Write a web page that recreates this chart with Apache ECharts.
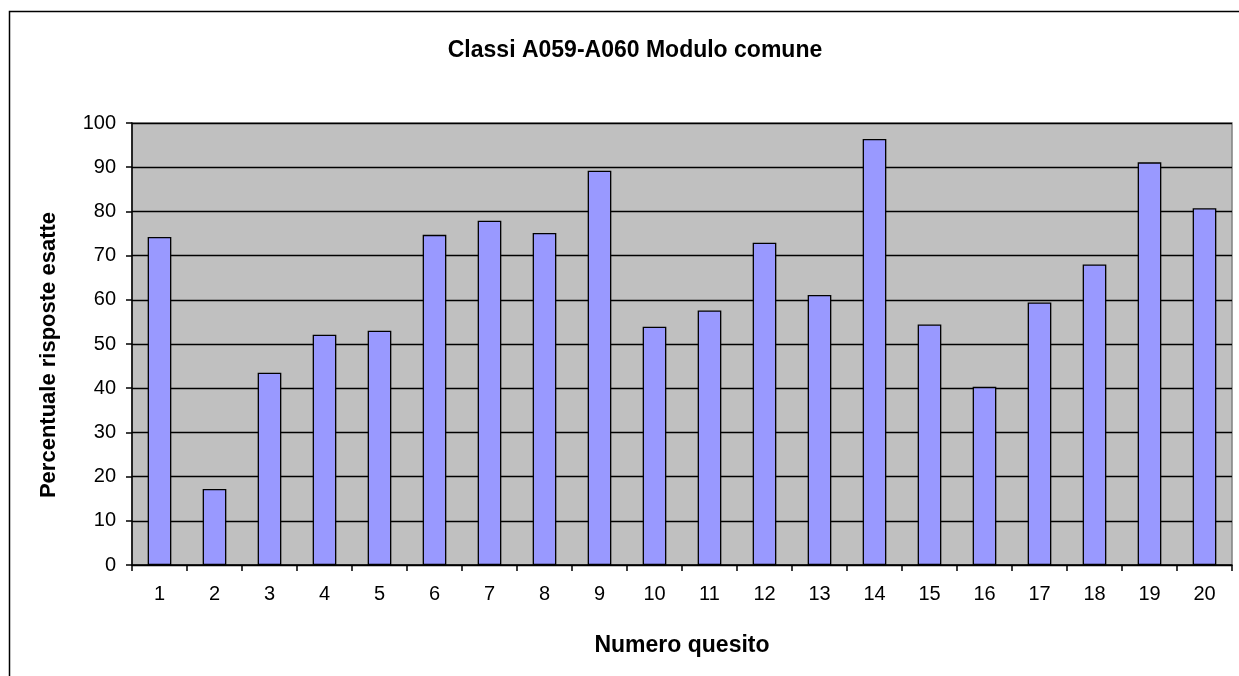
<!DOCTYPE html>
<html>
<head>
<meta charset="utf-8">
<script src="https://cdn.jsdelivr.net/npm/echarts@6/dist/echarts.min.js"></script>
<style>
html,body{margin:0;padding:0;background:#fff;}
#c{width:1239px;height:676px;}
</style>
</head>
<body>
<div id="c"></div>
<script>
const categories = ['1','2','3','4','5','6','7','8','9','10','11','12','13','14','15','16','17','18','19','20'];
const values = [74.2, 17.2, 43.5, 52.1, 53.0, 74.7, 77.9, 75.1, 89.2, 53.9, 57.6, 72.9, 61.1, 96.4, 54.4, 40.3, 59.4, 68.0, 91.1, 80.7];
const yTicks = [0, 100, 10];
const titleText = 'Classi A059-A060 Modulo comune';
const xName = 'Numero quesito';
const yName = 'Percentuale risposte esatte';

const chart = echarts.init(document.getElementById('c'));
const FONT = '"Liberation Sans", Arial, sans-serif';
chart.setOption({
  animation: false,
  backgroundColor: '#fff',
  title: {
    text: titleText,
    left: 630, top: 34, textAlign: 'center',
    textStyle: {fontFamily: FONT, fontSize: 23, fontWeight: 'bold', color: '#000'}
  },
  graphic: [
    {type: 'rect', shape: {x: 9.5, y: 11.5, width: 1300, height: 700}, style: {fill: 'none', stroke: '#000', lineWidth: 1.5}, silent: true, z: 100}
  ],
  grid: {left: 132, top: 123, right: 7, bottom: 111, show: true, backgroundColor: '#c0c0c0', borderColor: '#808080', borderWidth: 1.5},
  xAxis: {
    type: 'category', data: categories,
    name: xName, nameLocation: 'middle', nameGap: 69,
    nameTextStyle: {fontFamily: FONT, fontSize: 23, fontWeight: 'bold', color: '#000'},
    axisLine: {show: true, lineStyle: {color: '#000', width: 1.5}},
    axisTick: {show: true, alignWithLabel: false, length: 6, lineStyle: {color: '#000', width: 1.5}},
    axisLabel: {fontFamily: FONT, fontSize: 20, color: '#000', margin: 19},
    splitLine: {show: false}
  },
  yAxis: {
    type: 'value', min: yTicks[0], max: yTicks[1], interval: yTicks[2],
    name: yName, nameLocation: 'middle', nameGap: 72,
    nameTextStyle: {fontFamily: FONT, fontSize: 22, fontWeight: 'bold', color: '#000', padding: [0, 22, 0, 0]},
    axisLine: {show: true, lineStyle: {color: '#000', width: 1.5}},
    axisTick: {show: true, length: 6, lineStyle: {color: '#000', width: 1.5}},
    axisLabel: {fontFamily: FONT, fontSize: 20, color: '#000', margin: 16},
    splitLine: {show: true, lineStyle: {color: '#000', width: 1.3}}
  },
  series: [{
    type: 'bar', data: values, barWidth: '43%',
    itemStyle: {color: '#9999ff', borderColor: '#000', borderWidth: 1.3}
  }]
});
</script>
</body>
</html>
